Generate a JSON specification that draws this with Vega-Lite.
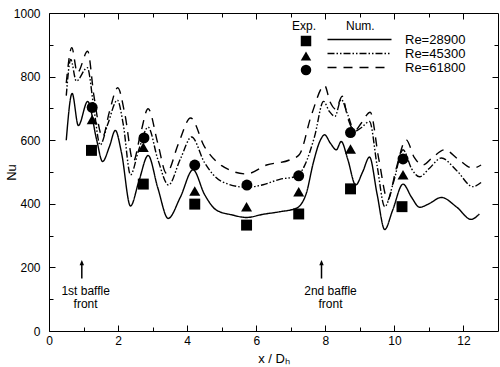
{
  "$schema": "https://vega.github.io/schema/vega-lite/v6.json",
  "width": 449,
  "height": 318,
  "autosize": {"type": "none"},
  "padding": {"left": 49, "top": 13, "right": 2, "bottom": 36},
  "background": "white",
  "config": {
    "font": "Liberation Sans",
    "view": {"stroke": "black", "strokeWidth": 1},
    "axis": {
      "domain": false,
      "grid": false,
      "tickColor": "black",
      "tickWidth": 1,
      "labelColor": "black",
      "labelFont": "Liberation Sans",
      "labelFontSize": 12,
      "titleColor": "black",
      "titleFont": "Liberation Sans",
      "titleFontWeight": "normal",
      "titleFontSize": 13
    },
    "legend": {
      "labelFont": "Liberation Sans",
      "titleFont": "Liberation Sans",
      "labelColor": "black",
      "titleColor": "black"
    }
  },
  "datasets": {
    "curves": [
      {"x": 0.5, "Nu": 600, "num": "Re=28900"},
      {"x": 0.67, "Nu": 747, "num": "Re=28900"},
      {"x": 0.85, "Nu": 646, "num": "Re=28900"},
      {"x": 1.12, "Nu": 722, "num": "Re=28900"},
      {"x": 1.38, "Nu": 601, "num": "Re=28900"},
      {"x": 1.55, "Nu": 533, "num": "Re=28900"},
      {"x": 1.75, "Nu": 580, "num": "Re=28900"},
      {"x": 1.92, "Nu": 631, "num": "Re=28900"},
      {"x": 2.1, "Nu": 560, "num": "Re=28900"},
      {"x": 2.36, "Nu": 393, "num": "Re=28900"},
      {"x": 2.6, "Nu": 470, "num": "Re=28900"},
      {"x": 2.87, "Nu": 552, "num": "Re=28900"},
      {"x": 3.15, "Nu": 450, "num": "Re=28900"},
      {"x": 3.45, "Nu": 354, "num": "Re=28900"},
      {"x": 3.8, "Nu": 420, "num": "Re=28900"},
      {"x": 4.17, "Nu": 507, "num": "Re=28900"},
      {"x": 4.5, "Nu": 430, "num": "Re=28900"},
      {"x": 4.85, "Nu": 380, "num": "Re=28900"},
      {"x": 5.3, "Nu": 365, "num": "Re=28900"},
      {"x": 5.72, "Nu": 357, "num": "Re=28900"},
      {"x": 6.2, "Nu": 367, "num": "Re=28900"},
      {"x": 6.68, "Nu": 375, "num": "Re=28900"},
      {"x": 7.16, "Nu": 386, "num": "Re=28900"},
      {"x": 7.45, "Nu": 433, "num": "Re=28900"},
      {"x": 7.65, "Nu": 528, "num": "Re=28900"},
      {"x": 7.84, "Nu": 596, "num": "Re=28900"},
      {"x": 7.98, "Nu": 617, "num": "Re=28900"},
      {"x": 8.15, "Nu": 590, "num": "Re=28900"},
      {"x": 8.32, "Nu": 570, "num": "Re=28900"},
      {"x": 8.46, "Nu": 596, "num": "Re=28900"},
      {"x": 8.65, "Nu": 540, "num": "Re=28900"},
      {"x": 8.88, "Nu": 459, "num": "Re=28900"},
      {"x": 9.08, "Nu": 500, "num": "Re=28900"},
      {"x": 9.28, "Nu": 547, "num": "Re=28900"},
      {"x": 9.5, "Nu": 430, "num": "Re=28900"},
      {"x": 9.72, "Nu": 319, "num": "Re=28900"},
      {"x": 9.95, "Nu": 380, "num": "Re=28900"},
      {"x": 10.25, "Nu": 462, "num": "Re=28900"},
      {"x": 10.5, "Nu": 420, "num": "Re=28900"},
      {"x": 10.73, "Nu": 389, "num": "Re=28900"},
      {"x": 11.0, "Nu": 400, "num": "Re=28900"},
      {"x": 11.36, "Nu": 420, "num": "Re=28900"},
      {"x": 11.8, "Nu": 390, "num": "Re=28900"},
      {"x": 12.22, "Nu": 351, "num": "Re=28900"},
      {"x": 12.46, "Nu": 368, "num": "Re=28900"},

      {"x": 0.5, "Nu": 740, "num": "Re=45300"},
      {"x": 0.63, "Nu": 854, "num": "Re=45300"},
      {"x": 0.79, "Nu": 786, "num": "Re=45300"},
      {"x": 1.11, "Nu": 828, "num": "Re=45300"},
      {"x": 1.3, "Nu": 700, "num": "Re=45300"},
      {"x": 1.48, "Nu": 585, "num": "Re=45300"},
      {"x": 1.7, "Nu": 650, "num": "Re=45300"},
      {"x": 1.98, "Nu": 726, "num": "Re=45300"},
      {"x": 2.15, "Nu": 650, "num": "Re=45300"},
      {"x": 2.36, "Nu": 491, "num": "Re=45300"},
      {"x": 2.6, "Nu": 570, "num": "Re=45300"},
      {"x": 2.87, "Nu": 641, "num": "Re=45300"},
      {"x": 3.15, "Nu": 540, "num": "Re=45300"},
      {"x": 3.46, "Nu": 459, "num": "Re=45300"},
      {"x": 3.8, "Nu": 540, "num": "Re=45300"},
      {"x": 4.13, "Nu": 610, "num": "Re=45300"},
      {"x": 4.5, "Nu": 530, "num": "Re=45300"},
      {"x": 5.0, "Nu": 470, "num": "Re=45300"},
      {"x": 5.72, "Nu": 452, "num": "Re=45300"},
      {"x": 6.2, "Nu": 460, "num": "Re=45300"},
      {"x": 6.68, "Nu": 477, "num": "Re=45300"},
      {"x": 7.16, "Nu": 486, "num": "Re=45300"},
      {"x": 7.4, "Nu": 520, "num": "Re=45300"},
      {"x": 7.69, "Nu": 612, "num": "Re=45300"},
      {"x": 7.95, "Nu": 722, "num": "Re=45300"},
      {"x": 8.12, "Nu": 690, "num": "Re=45300"},
      {"x": 8.28, "Nu": 675, "num": "Re=45300"},
      {"x": 8.46, "Nu": 728, "num": "Re=45300"},
      {"x": 8.65, "Nu": 680, "num": "Re=45300"},
      {"x": 8.85, "Nu": 628, "num": "Re=45300"},
      {"x": 9.05, "Nu": 640, "num": "Re=45300"},
      {"x": 9.28, "Nu": 659, "num": "Re=45300"},
      {"x": 9.5, "Nu": 520, "num": "Re=45300"},
      {"x": 9.72, "Nu": 391, "num": "Re=45300"},
      {"x": 9.98, "Nu": 470, "num": "Re=45300"},
      {"x": 10.25, "Nu": 570, "num": "Re=45300"},
      {"x": 10.5, "Nu": 510, "num": "Re=45300"},
      {"x": 10.73, "Nu": 485, "num": "Re=45300"},
      {"x": 11.0, "Nu": 510, "num": "Re=45300"},
      {"x": 11.36, "Nu": 544, "num": "Re=45300"},
      {"x": 11.8, "Nu": 505, "num": "Re=45300"},
      {"x": 12.27, "Nu": 454, "num": "Re=45300"},
      {"x": 12.51, "Nu": 467, "num": "Re=45300"},

      {"x": 0.5, "Nu": 780, "num": "Re=61800"},
      {"x": 0.66, "Nu": 891, "num": "Re=61800"},
      {"x": 0.82, "Nu": 812, "num": "Re=61800"},
      {"x": 1.12, "Nu": 880, "num": "Re=61800"},
      {"x": 1.3, "Nu": 740, "num": "Re=61800"},
      {"x": 1.55, "Nu": 610, "num": "Re=61800"},
      {"x": 1.75, "Nu": 690, "num": "Re=61800"},
      {"x": 1.99, "Nu": 765, "num": "Re=61800"},
      {"x": 2.2, "Nu": 680, "num": "Re=61800"},
      {"x": 2.44, "Nu": 533, "num": "Re=61800"},
      {"x": 2.65, "Nu": 620, "num": "Re=61800"},
      {"x": 2.87, "Nu": 699, "num": "Re=61800"},
      {"x": 3.15, "Nu": 590, "num": "Re=61800"},
      {"x": 3.4, "Nu": 496, "num": "Re=61800"},
      {"x": 3.75, "Nu": 590, "num": "Re=61800"},
      {"x": 4.1, "Nu": 670, "num": "Re=61800"},
      {"x": 4.5, "Nu": 580, "num": "Re=61800"},
      {"x": 5.0, "Nu": 520, "num": "Re=61800"},
      {"x": 5.72, "Nu": 494, "num": "Re=61800"},
      {"x": 6.3, "Nu": 522, "num": "Re=61800"},
      {"x": 6.97, "Nu": 538, "num": "Re=61800"},
      {"x": 7.25, "Nu": 555, "num": "Re=61800"},
      {"x": 7.6, "Nu": 680, "num": "Re=61800"},
      {"x": 7.98, "Nu": 772, "num": "Re=61800"},
      {"x": 8.14, "Nu": 720, "num": "Re=61800"},
      {"x": 8.3, "Nu": 698, "num": "Re=61800"},
      {"x": 8.49, "Nu": 738, "num": "Re=61800"},
      {"x": 8.65, "Nu": 670, "num": "Re=61800"},
      {"x": 8.85, "Nu": 630, "num": "Re=61800"},
      {"x": 9.05, "Nu": 655, "num": "Re=61800"},
      {"x": 9.3, "Nu": 688, "num": "Re=61800"},
      {"x": 9.55, "Nu": 540, "num": "Re=61800"},
      {"x": 9.81, "Nu": 412, "num": "Re=61800"},
      {"x": 10.05, "Nu": 510, "num": "Re=61800"},
      {"x": 10.34, "Nu": 601, "num": "Re=61800"},
      {"x": 10.58, "Nu": 545, "num": "Re=61800"},
      {"x": 10.82, "Nu": 522, "num": "Re=61800"},
      {"x": 11.1, "Nu": 545, "num": "Re=61800"},
      {"x": 11.45, "Nu": 570, "num": "Re=61800"},
      {"x": 11.85, "Nu": 540, "num": "Re=61800"},
      {"x": 12.27, "Nu": 512, "num": "Re=61800"},
      {"x": 12.51, "Nu": 522, "num": "Re=61800"}
    ],
    "exp": [
      {"x": 1.23, "Nu": 568, "exp": "28900"},
      {"x": 2.73, "Nu": 462, "exp": "28900"},
      {"x": 4.22, "Nu": 399, "exp": "28900"},
      {"x": 5.72, "Nu": 333, "exp": "28900"},
      {"x": 7.23, "Nu": 368, "exp": "28900"},
      {"x": 8.73, "Nu": 447, "exp": "28900"},
      {"x": 10.22, "Nu": 391, "exp": "28900"},
      {"x": 1.25, "Nu": 665, "exp": "45300"},
      {"x": 2.73, "Nu": 578, "exp": "45300"},
      {"x": 4.22, "Nu": 440, "exp": "45300"},
      {"x": 5.72, "Nu": 391, "exp": "45300"},
      {"x": 7.23, "Nu": 438, "exp": "45300"},
      {"x": 8.73, "Nu": 572, "exp": "45300"},
      {"x": 10.25, "Nu": 491, "exp": "45300"},
      {"x": 1.25, "Nu": 703, "exp": "61800"},
      {"x": 2.75, "Nu": 607, "exp": "61800"},
      {"x": 4.22, "Nu": 522, "exp": "61800"},
      {"x": 5.73, "Nu": 459, "exp": "61800"},
      {"x": 7.23, "Nu": 488, "exp": "61800"},
      {"x": 8.73, "Nu": 624, "exp": "61800"},
      {"x": 10.25, "Nu": 541, "exp": "61800"}
    ],
    "notes": [
      {"x": 0.95, "xText": 1.06, "label": "1st baffle\nfront"},
      {"x": 7.89, "xText": 8.15, "label": "2nd baffle\nfront"}
    ]
  },
  "layer": [
    {
      "data": {"name": "curves"},
      "mark": {"type": "line", "interpolate": "monotone", "color": "black", "strokeWidth": 1.4},
      "encoding": {
        "x": {
          "field": "x", "type": "quantitative",
          "scale": {"domain": [0, 13], "nice": false, "zero": false},
          "axis": {
            "orient": "bottom",
            "title": "x / Dₕ",
            "values": [0, 1, 2, 3, 4, 5, 6, 7, 8, 9, 10, 11, 12],
            "labelExpr": "datum.value % 2 === 0 ? '' + datum.value : ''",
            "tickSize": {"condition": {"test": "datum.value % 2 === 0", "value": -6}, "value": -4},
            "labelPadding": 10,
            "titlePadding": 6,
            "labelFlush": false
          }
        },
        "y": {
          "field": "Nu", "type": "quantitative",
          "scale": {"domain": [0, 1000], "nice": false},
          "axis": {
            "orient": "left",
            "title": "Nu",
            "values": [0, 100, 200, 300, 400, 500, 600, 700, 800, 900, 1000],
            "labelExpr": "datum.value % 200 === 0 ? '' + datum.value : ''",
            "tickSize": {"condition": {"test": "datum.value % 200 === 0", "value": -6}, "value": -4},
            "labelPadding": 15,
            "titlePadding": -5,
            "labelFlush": false
          }
        },
        "strokeDash": {
          "field": "num", "type": "nominal",
          "scale": {"domain": ["Re=28900", "Re=45300", "Re=61800"], "range": [[1, 0], [7, 2, 1.5, 2, 1.5, 2], [9, 7]]},
          "legend": {
            "title": null,
            "orient": "none",
            "legendX": 282,
            "legendY": 20,
            "symbolType": "M-6.4,0L6.4,0",
            "symbolSize": 100,
            "symbolStrokeColor": "black",
            "symbolStrokeWidth": 1.4,
            "symbolOffset": 22,
            "labelOffset": 39,
            "labelFontSize": 13,
            "rowPadding": -5.5
          }
        }
      }
    },
    {
      "data": {"name": "exp"},
      "mark": {"type": "point", "filled": true, "color": "black", "opacity": 1, "size": 120},
      "encoding": {
        "x": {
          "field": "x", "type": "quantitative",
          "axis": {
            "orient": "top", "title": null, "labels": false,
            "values": [1, 2, 3, 4, 5, 6, 7, 8, 9, 10, 11, 12],
            "tickSize": {"condition": {"test": "datum.value % 2 === 0", "value": -6}, "value": -4}
          }
        },
        "y": {
          "field": "Nu", "type": "quantitative",
          "axis": {
            "orient": "right", "title": null, "labels": false,
            "values": [100, 200, 300, 400, 500, 600, 700, 800, 900],
            "tickSize": {"condition": {"test": "datum.value % 200 === 0", "value": -6}, "value": -4}
          }
        },
        "shape": {
          "field": "exp", "type": "nominal",
          "scale": {"domain": ["28900", "45300", "61800"], "range": ["square", "triangle-up", "circle"]},
          "legend": {
            "title": "Exp.\u00a0\u00a0\u00a0\u00a0\u00a0\u00a0\u00a0\u00a0\u00a0Num.",
            "titleFontSize": 12,
            "titleFontWeight": "normal",
            "titlePadding": 2,
            "orient": "none",
            "legendX": 243,
            "legendY": 8,
            "labelExpr": "''",
            "labelFontSize": 8,
            "symbolSize": 110,
            "symbolFillColor": "black",
            "symbolStrokeColor": "black",
            "symbolOffset": 8,
            "rowPadding": -4.5
          }
        }
      }
    },
    {
      "data": {"name": "notes"},
      "mark": {"type": "rule", "color": "black", "strokeWidth": 1.5},
      "encoding": {
        "x": {"field": "x", "type": "quantitative", "axis": null},
        "y": {"datum": 165, "axis": null},
        "y2": {"datum": 212}
      }
    },
    {
      "data": {"name": "notes"},
      "mark": {"type": "point", "shape": "M-1,1L0,-1.3L1,1Z", "filled": true, "color": "black", "opacity": 1, "size": 20},
      "encoding": {
        "x": {"field": "x", "type": "quantitative", "axis": null},
        "y": {"datum": 214, "axis": null}
      }
    },
    {
      "data": {"name": "notes"},
      "mark": {"type": "text", "lineBreak": "\n", "fontSize": 12, "font": "Liberation Sans", "color": "black", "baseline": "middle", "align": "center", "lineHeight": 13.5},
      "encoding": {
        "x": {"field": "xText", "type": "quantitative", "axis": null},
        "y": {"datum": 127, "axis": null},
        "text": {"field": "label"}
      }
    }
  ],
  "resolve": {"axis": {"x": "independent", "y": "independent"}}
}
